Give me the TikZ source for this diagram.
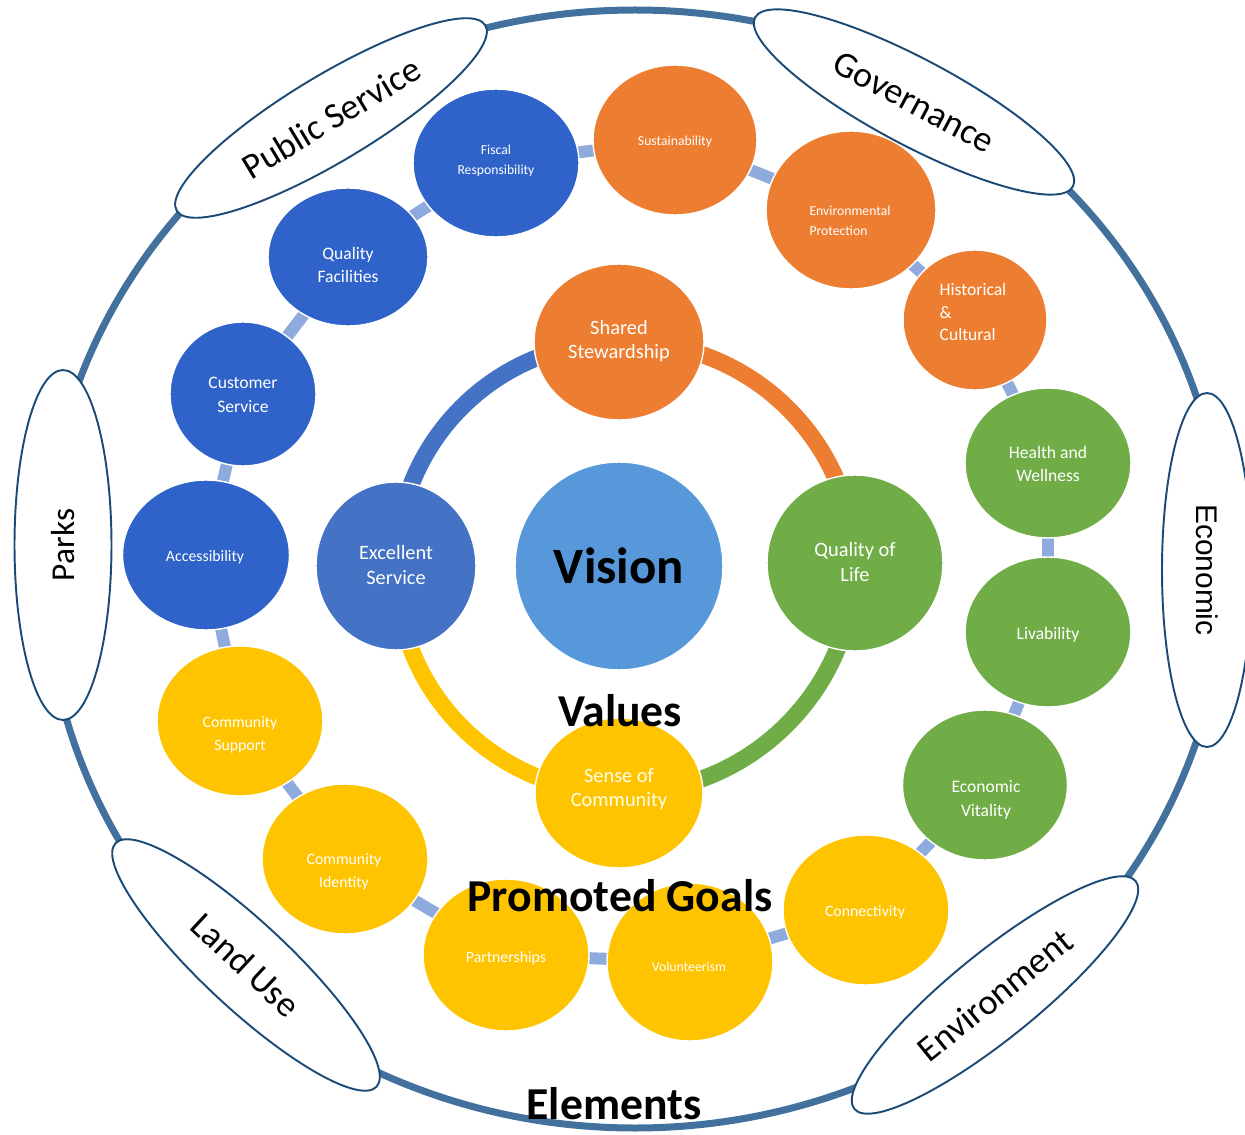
\documentclass[tikz,border=0pt]{standalone}
\usepackage{fontspec}
\setmainfont{Carlito}
\newfontfamily\arialfont{Liberation Sans}
\usetikzlibrary{shapes.geometric,backgrounds}
\definecolor{gblue}{RGB}{47,99,201}
\definecolor{vblue}{RGB}{68,114,196}
\definecolor{vorange}{RGB}{237,125,49}
\definecolor{vgreen}{RGB}{112,173,71}
\definecolor{vyellow}{RGB}{255,196,0}
\definecolor{visionblue}{RGB}{86,152,218}
\definecolor{connblue}{RGB}{143,170,220}
\definecolor{ringblue}{RGB}{65,113,156}
\definecolor{elemline}{RGB}{28,74,118}
\begin{document}
\begin{tikzpicture}[x=0.02cm,y=-0.02cm,
  circ/.style={ellipse, draw=white, line width=0.8pt, inner sep=0pt},
  gtext/.style={text=white, align=center, inner sep=0pt},
  conn/.style={connblue, line width=0.24cm, shorten <=-8pt, shorten >=-8pt},
  varc/.style={line width=0.34cm},
  elem/.style={ellipse, draw=elemline, fill=white, line width=1.1pt, inner sep=0pt, font=\fontsize{20.5}{24}\selectfont},
  big/.style={font=\bfseries\fontsize{26}{30}\selectfont, inner sep=0pt},
  fa/.style={font=\fontsize{7.8}{11.5}\selectfont},
  fb/.style={font=\fontsize{9}{13}\selectfont},
  fc/.style={font=\fontsize{10}{13.5}\selectfont},
  fv/.style={font=\fontsize{11.6}{14}\selectfont}
]
\useasboundingbox (0,0) rectangle (1245,1135);

% goal circles
\node[circ, fill=gblue, minimum width=3.32cm, minimum height=2.96cm] (g1) at (496,163) {};
\node[circ, fill=vorange, minimum width=3.28cm, minimum height=3.0cm] (g2) at (675,140) {};
\node[circ, fill=vorange, minimum width=3.40cm, minimum height=3.16cm] (g3) at (851,210) {};
\node[circ, fill=vorange, minimum width=2.88cm, minimum height=2.80cm] (g4) at (975,320) {};
\node[circ, fill=vgreen, minimum width=3.32cm, minimum height=3.0cm] (g5) at (1048,463) {};
\node[circ, fill=vgreen, minimum width=3.32cm, minimum height=3.0cm] (g6) at (1048,632) {};
\node[circ, fill=vgreen, minimum width=3.30cm, minimum height=3.0cm] (g7) at (985,785) {};
\node[circ, fill=vyellow, minimum width=3.32cm, minimum height=3.0cm] (g8) at (866,910) {};
\node[circ, fill=vyellow, minimum width=3.32cm, minimum height=3.16cm] (g9) at (690,962) {};
\node[circ, fill=vyellow, minimum width=3.32cm, minimum height=3.04cm] (g10) at (506,955) {};
\node[circ, fill=vyellow, minimum width=3.32cm, minimum height=3.0cm] (g11) at (345,859) {};
\node[circ, fill=vyellow, minimum width=3.32cm, minimum height=3.0cm] (g12) at (240,721) {};
\node[circ, fill=gblue, minimum width=3.34cm, minimum height=3.0cm] (g13) at (206,555) {};
\node[circ, fill=gblue, minimum width=2.92cm, minimum height=2.88cm] (g14) at (243,394) {};
\node[circ, fill=gblue, minimum width=3.20cm, minimum height=2.76cm] (g15) at (348,257) {};

% goal texts
\node[gtext, fa] (t1) at (496,161) {Fiscal\\Responsibility};
\node[gtext, fa] (t2) at (675,142) {Sustainability};
\node[gtext, fa, align=left] (t3) at (850,221) {Environmental\\Protection};
\node[gtext, align=left, font=\fontsize{10}{13}\selectfont] (t4) at (973,312) {Historical\\\&\\Cultural};
\node[gtext, fc] (t5) at (1048,464) {Health and\\Wellness};
\node[gtext, fc] (t6) at (1048,635) {Livability};
\node[gtext, fc] (t7) at (986,800) {Economic\\Vitality};
\node[gtext, fb] (t8) at (865,912) {Connectivity};
\node[gtext, fa] (t9) at (689,967) {Volunteerism};
\node[gtext, fb] (t10) at (506,958) {Partnerships};
\node[gtext, fb] (t11) at (344,872) {Community\\Identity};
\node[gtext, fb] (t12) at (240,735) {Community\\Support};
\node[gtext, fb] (t13) at (205,557) {Accessibility};
\node[gtext, fc] (t14) at (243,395) {Customer\\Service};
\node[gtext, fc] (t15) at (348,265) {Quality\\Facilities};

% value circles
\node[circ, fill=vorange, minimum width=3.40cm, minimum height=3.12cm] (v1) at (619,342) {};
\node[circ, fill=vblue, minimum width=3.20cm, minimum height=3.36cm] (v2) at (396,566) {};
\node[circ, fill=vgreen, minimum width=3.52cm, minimum height=3.52cm] (v3) at (855,563) {};
\node[circ, fill=vyellow, minimum width=3.36cm, minimum height=3.0cm] (v4) at (619,793) {};
\node[circ, fill=visionblue, minimum width=4.16cm, minimum height=4.16cm, font=\bfseries\fontsize{29}{32}\selectfont] (vision) at (619,566) {Vision};

\node[gtext, fv] (s1) at (619,341) {Shared\\Stewardship};
\node[gtext, fv] (s2) at (396,565) {Excellent\\Service};
\node[gtext, fv] (s3) at (855,562) {Quality of\\Life};
\node[gtext, fv, text=white!92!yellow] (s4) at (619,789) {Sense of\\Community};

% element ellipses
\node[elem, minimum width=7.2cm, minimum height=1.72cm, rotate=31] (e1) at (331,118) {Public Service};
\node[elem, minimum width=7.2cm, minimum height=1.72cm, rotate=-28] (e2) at (914,102) {Governance};
\node[elem, minimum width=7.0cm, minimum height=1.94cm, rotate=90, font=\fontsize{19}{22}\selectfont] (e3) at (63,545) {Parks};
\node[elem, minimum width=7.08cm, minimum height=1.8cm, rotate=-90, font=\arialfont\fontsize{17}{20}\selectfont] (e4) at (1207,570) {Economic};
\node[elem, minimum width=7.14cm, minimum height=1.72cm, rotate=-43] (e5) at (246,965) {Land Use};
\node[elem, minimum width=7.24cm, minimum height=1.72cm, rotate=39] (e6) at (995,995) {Environment};

% big labels
\node[big] (lvalues) at (620,711) {Values};
\node[big] (lgoals) at (620,896) {Promoted Goals};
\node[big] (lelements) at (614,1104) {Elements};

\begin{scope}[on background layer]
  \draw[ringblue, line width=0.14cm] (635,569) ellipse [x radius=590, y radius=559];
  \draw[conn] (g1) -- (g2);
  \draw[conn] (g2) -- (g3);
  \draw[conn] (g3) -- (g4);
  \draw[conn] (g4) -- (g5);
  \draw[conn] (g5) -- (g6);
  \draw[conn] (g6) -- (g7);
  \draw[conn] (g7) -- (g8);
  \draw[conn] (g8) -- (g9);
  \draw[conn] (g9) -- (g10);
  \draw[conn] (g10) -- (g11);
  \draw[conn] (g11) -- (g12);
  \draw[conn] (g12) -- (g13);
  \draw[conn] (g13) -- (g14);
  \draw[conn] (g14) -- (g15);
  \draw[conn] (g15) -- (g1);
  \draw[varc, vblue] (v2.center) to[bend left=45] (v1.center);
  \draw[varc, vorange] (v1.center) to[bend left=45] (v3.center);
  \draw[varc, vgreen] (v3.center) to[bend left=45] (v4.center);
  \draw[varc, vyellow] (v4.center) to[bend left=45] (v2.center);
\end{scope}
\end{tikzpicture}
\end{document}
